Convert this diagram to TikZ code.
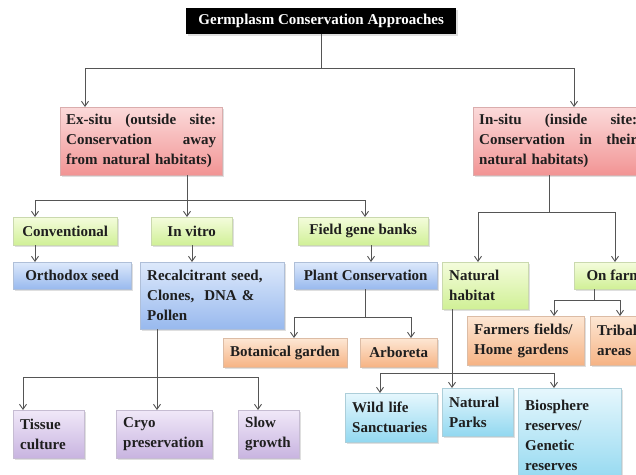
\documentclass[tikz,border=0pt]{standalone}
\usepackage{fontspec}
\setmainfont{Liberation Serif}
\usetikzlibrary{positioning, arrows.meta, calc, shadows}

\definecolor{pinktop}{HTML}{FBDADA}
\definecolor{pinkbot}{HTML}{F29494}
\definecolor{greentop}{HTML}{F4FCDC}
\definecolor{greenbot}{HTML}{D0F096}
\definecolor{bluetop}{HTML}{DDE9FB}
\definecolor{bluebot}{HTML}{98B9EE}
\definecolor{orangetop}{HTML}{FDE7D4}
\definecolor{orangebot}{HTML}{F6B384}
\definecolor{purpletop}{HTML}{F0E8F8}
\definecolor{purplebot}{HTML}{C8B4E0}
\definecolor{cyantop}{HTML}{E6F7FD}
\definecolor{cyanbot}{HTML}{92D8F0}
\definecolor{linegray}{HTML}{555555}
\definecolor{inkdark}{HTML}{1E1E1E}

\tikzset{
    box/.style={anchor=north west, align=left, inner xsep=7pt, inner ysep=3pt,
        font=\fontsize{15}{20}\selectfont\bfseries, text=inkdark,
        drop shadow={shadow xshift=1.5pt, shadow yshift=-1.5pt, opacity=.25}},
    pinkbox/.style={box, draw=pinkbot!80!black!60, top color=pinktop, bottom color=pinkbot},
    greenbox/.style={box, draw=greenbot!80!black!60, top color=greentop, bottom color=greenbot},
    bluebox/.style={box, draw=bluebot!80!black!60, top color=bluetop, bottom color=bluebot},
    orangebox/.style={box, draw=orangebot!80!black!60, top color=orangetop, bottom color=orangebot},
    purplebox/.style={box, draw=purplebot!80!black!60, top color=purpletop, bottom color=purplebot},
    cyanbox/.style={box, draw=cyanbot!80!black!60, top color=cyantop, bottom color=cyanbot},
    titlebox/.style={box, fill=black, text=white, align=center},
    wire/.style={draw=linegray, line width=.9pt},
    arr/.style={wire, -{Straight Barb[length=5pt, width=7pt]}}
}

\begin{document}
\begin{tikzpicture}[x=1pt, y=-1pt]

    \clip (0,0) rectangle (636,474);
    \fill[white] (0,0) rectangle (636,474);

    % TOP
    \node[titlebox, minimum width=270pt, minimum height=26pt] (title) at (186,8) {Germplasm Conservation Approaches};

    % EX-SITU / IN-SITU
    \node[pinkbox, text width=150pt, inner xsep=6pt, minimum height=68pt] (exsitu) at (60,107)
        {Ex-situ\hfill(outside\hfill site:\\ Conservation\hfill away\\ from natural habitats)};
    \node[pinkbox, text width=158pt, inner xsep=6pt, minimum height=68pt] (insitu) at (473,107)
        {In-situ\hfill(inside\hfill site:\\ Conservation\hfill in\hfill their\\ natural habitats)};

    \draw[arr] (title.south) -- ++(0,34) -| ([xshift=25pt]exsitu.north west);
    \draw[arr] (title.south) -- ++(0,34) -| ([xshift=101pt]insitu.north west);

    % EX-SITU BRANCH
    \node[greenbox, minimum width=104pt, minimum height=28pt] (conv) at (13,217) {Conventional};
    \node[greenbox, align=center, minimum width=81pt, minimum height=28pt] (invitro) at (151,217) {In vitro};
    \node[greenbox, minimum width=130pt, minimum height=28pt] (fgb) at (298,217) {Field gene banks};

    \coordinate (exj) at ([xshift=127pt, yshift=-25pt]exsitu.south west);
    \draw[wire] ([xshift=127pt]exsitu.south west) -- (exj);
    \draw[arr] (exj) -| ([xshift=22pt]conv.north west);
    \draw[arr] (exj) -- (exj |- invitro.north);
    \draw[arr] (exj) -| ([xshift=67pt]fgb.north west);

    \node[bluebox, minimum width=118pt, minimum height=27pt] (orth) at (13,262) {Orthodox seed};
    \node[bluebox, text width=130pt, minimum height=67pt] (recal) at (140,262) {Recalcitrant seed,\\ Clones,~ DNA \&\\ Pollen};
    \node[bluebox, minimum width=143pt, minimum height=27pt] (plant) at (294,262) {Plant Conservation};

    \draw[arr] ([xshift=22pt]conv.south west) -- ([xshift=22pt]orth.north west);
    \coordinate (ivout) at ([xshift=41pt]invitro.south west);
    \draw[arr] (ivout) -- (ivout |- recal.north);
    \coordinate (fgbout) at ([xshift=73pt]fgb.south west);
    \draw[arr] (fgbout) -- (fgbout |- plant.north);

    % FIELD GENE BANKS
    \node[orangebox, minimum width=117pt, minimum height=29pt] (botan) at (223,338) {Botanical garden};
    \node[orangebox, minimum width=77pt, minimum height=29pt] (arbor) at (360,338) {Arboreta};

    \coordinate (plj) at ([xshift=71pt, yshift=-28pt]plant.south west);
    \draw[wire] ([xshift=71pt]plant.south west) -- (plj);
    \draw[arr] (plj) -| ([xshift=71pt]botan.north west);
    \draw[arr] (plj) -| ([xshift=51pt]arbor.north west);

    % IN VITRO
    \node[purplebox, text width=57pt, minimum height=48pt] (tissue) at (13,410) {Tissue\\ culture};
    \node[purplebox, text width=82pt, minimum height=48pt] (cryo) at (116,410) {Cryo\\ preservation};
    \node[purplebox, text width=47pt, minimum height=48pt] (slow) at (238,410) {Slow\\ growth};

    \coordinate (rcj) at ([xshift=17pt, yshift=-48pt]recal.south west);
    \draw[wire] ([xshift=17pt]recal.south west) -- (rcj);
    \draw[arr] (rcj) -| ([xshift=10pt]tissue.north west);
    \draw[arr] (rcj) -| ([xshift=41pt]cryo.north west);
    \draw[arr] (rcj) -| ([xshift=20pt]slow.north west);

    % IN-SITU BRANCH
    \node[greenbox, text width=72pt, minimum height=47pt] (nathab) at (442,262) {Natural\\ habitat};
    \node[greenbox, minimum width=80pt, minimum height=27pt] (onfarm) at (574,262) {On farm};

    \coordinate (isj) at ([xshift=76pt, yshift=-37pt]insitu.south west);
    \draw[wire] ([xshift=76pt]insitu.south west) -- (isj);
    \draw[arr] (isj) -| ([xshift=36pt]nathab.north west);
    \draw[arr] (isj) -| ([xshift=41pt]onfarm.north west);

    % ON FARM
    \node[orangebox, text width=103pt, minimum height=49pt] (farmers) at (467,316) {Farmers fields/\\ Home gardens};
    \node[orangebox, text width=46pt, minimum height=49pt] (tribal) at (590,316) {Tribal\\ areas};

    \coordinate (ofj) at ([xshift=20pt, yshift=-11pt]onfarm.south west);
    \draw[wire] ([xshift=20pt]onfarm.south west) -- (ofj);
    \draw[arr] (ofj) -| ([xshift=87pt]farmers.north west);
    \draw[arr] (ofj) -| ([xshift=30pt]tribal.north west);

    % NATURAL HABITAT
    \node[cyanbox, text width=78pt, minimum height=49pt] (wild) at (345,393) {Wild life\\ Sanctuaries};
    \node[cyanbox, text width=57pt, minimum height=48pt] (parks) at (442,388) {Natural\\ Parks};
    \node[cyanbox, text width=89pt, minimum height=95pt, inner ysep=6pt] (bio) at (518,388) {Biosphere\\ reserves/\\ Genetic\\ reserves};

    \coordinate (nhout) at ([xshift=10pt]nathab.south west);
    \draw[arr] (nhout) -- (nhout |- parks.north);
    \coordinate (nhj) at ([yshift=-64pt]nhout);
    \draw[arr] (nhj) -| ([xshift=35pt]wild.north west);
    \draw[arr] (nhj) -| ([xshift=36pt]bio.north west);

\end{tikzpicture}
\end{document}
